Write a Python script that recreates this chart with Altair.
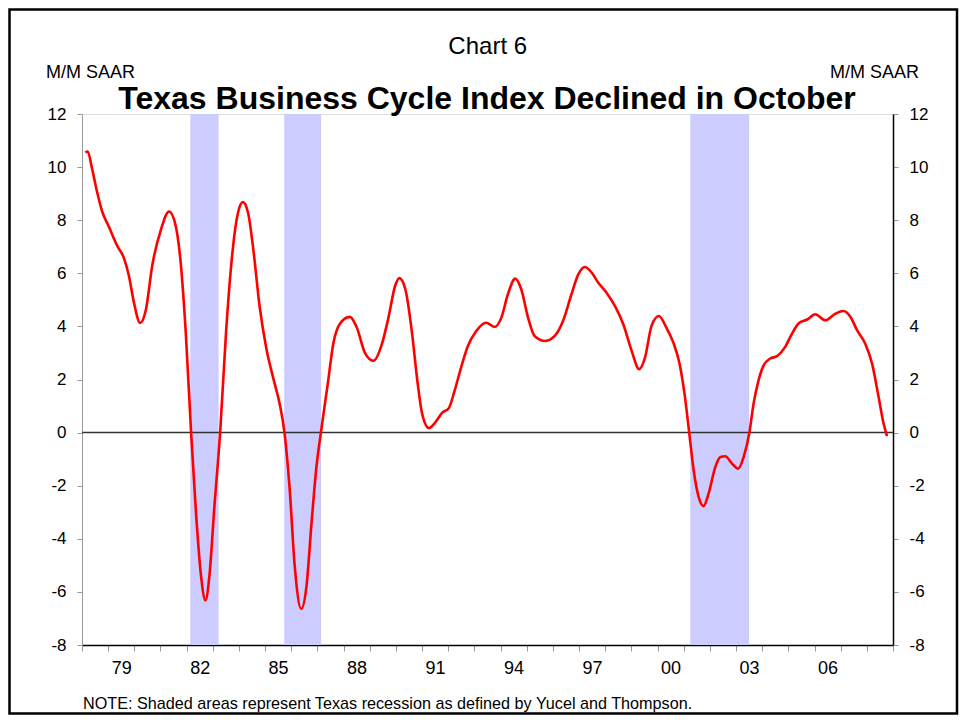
import altair as alt
import pandas as pd

# ---- data ----
years = [1978.13, 1978.22, 1978.38, 1978.58, 1978.77, 1979.03, 1979.35, 1979.60, 1979.79, 1979.99,
         1980.22, 1980.44, 1980.69, 1981.01, 1981.33, 1981.56, 1981.78, 1981.97, 1982.17, 1982.36,
         1982.55, 1982.72, 1982.87, 1983.06, 1983.28, 1983.51, 1983.77, 1983.96, 1984.15, 1984.35,
         1984.54, 1984.79, 1985.05, 1985.31, 1985.55, 1985.74, 1985.94, 1986.13, 1986.38, 1986.58,
         1986.77, 1986.96, 1987.16, 1987.41, 1987.60, 1987.86, 1988.24, 1988.50, 1988.82, 1989.14,
         1989.46, 1989.72, 1989.97, 1990.13, 1990.36, 1990.62, 1990.81, 1991.00, 1991.26, 1991.51,
         1991.78, 1992.02, 1992.24, 1992.49, 1992.75, 1993.07, 1993.45, 1993.77, 1994.03, 1994.28,
         1994.56, 1994.79, 1995.05, 1995.30, 1995.71, 1996.07, 1996.39, 1996.71, 1996.97, 1997.22,
         1997.48, 1997.73, 1998.05, 1998.37, 1998.69, 1999.01, 1999.30, 1999.52, 1999.77, 2000.05,
         2000.34, 2000.60, 2000.84, 2001.06, 2001.21, 2001.38, 2001.57, 2001.76, 2001.95, 2002.21,
         2002.40, 2002.59, 2002.85, 2003.08, 2003.29, 2003.51, 2003.67, 2003.86, 2004.06, 2004.31,
         2004.57, 2004.88, 2005.14, 2005.39, 2005.72, 2006.03, 2006.41, 2006.80, 2007.11, 2007.37,
         2007.63, 2007.94, 2008.20, 2008.45, 2008.64, 2008.77]
values = [10.55, 10.59, 9.96, 9.05, 8.33, 7.75, 7.03, 6.58, 5.92, 4.88,
          4.13, 4.62, 6.32, 7.62, 8.33, 7.88, 6.32, 3.71, 0.00, -3.06,
          -5.40, -6.32, -5.40, -2.80, 0.00, 3.84, 6.97, 8.27, 8.68, 8.27,
          6.97, 4.75, 3.15, 2.05, 1.11, 0.00, -2.15, -5.01, -6.64, -5.79,
          -3.45, -1.30, 0.20, 1.95, 3.32, 4.10, 4.36, 3.97, 2.99, 2.70,
          3.32, 4.36, 5.53, 5.82, 5.40, 3.71, 2.02, 0.72, 0.17, 0.39,
          0.76, 0.92, 1.57, 2.45, 3.26, 3.83, 4.14, 3.98, 4.33, 5.21,
          5.80, 5.40, 4.33, 3.64, 3.45, 3.64, 4.21, 5.21, 5.96, 6.24,
          6.03, 5.65, 5.27, 4.77, 4.08, 3.08, 2.39, 2.82, 4.02, 4.39,
          3.95, 3.40, 2.60, 1.25, 0.00, -1.42, -2.42, -2.77, -2.30, -1.29,
          -0.92, -0.89, -1.17, -1.36, -0.92, 0.00, 1.09, 1.97, 2.54, 2.79,
          2.88, 3.23, 3.73, 4.11, 4.26, 4.46, 4.23, 4.48, 4.58, 4.36,
          3.85, 3.35, 2.60, 1.34, 0.34, -0.13]
rec_start = [1982.14, 1985.73, 2001.25]
rec_end = [1983.22, 1987.14, 2003.50]
y_ticks = list(range(-8, 13, 2))
x_tick_years = list(range(1978, 2010))

title_text = "Texas Business Cycle Index Declined in October"
chart_no = "Chart 6"
unit_text = "M/M SAAR"
note_text = "NOTE:  Shaded areas represent Texas recession as defined by Yucel and Thompson."

line_df = pd.DataFrame({"year": years, "value": values})
rec_df = pd.DataFrame({"start": rec_start, "end": rec_end})
one = alt.Data(values=[{}])

W, H = 811, 531
FONT = "Liberation Sans"

xscale = alt.Scale(domain=[1978, 2009], nice=False, zero=False)
yscale = alt.Scale(domain=[-8, 12], nice=False, zero=False)

x_axis = alt.Axis(
    values=x_tick_years, title=None, grid=False,
    labelExpr="((datum.value - 1979) % 3 == 0 && datum.value < 2009) ? slice('0' + (datum.value % 100), -2) : ''",
    labelOffset=13, labelOverlap=False, labelFlush=False, labelBound=False,
    labelFontSize=18, labelColor="black", labelFont=FONT, labelPadding=8,
    tickSize=6, tickColor="#999999", tickWidth=1,
    domainColor="black", domainWidth=1.5,
)
y_label_expr = "datum.value < 0 ? '-' + abs(datum.value) : '' + datum.value"
y_left = alt.Axis(
    values=y_ticks, title=None, grid=False, orient="left", labelExpr=y_label_expr,
    labelFontSize=17, labelColor="black", labelFont=FONT, labelPadding=11,
    tickSize=5, tickColor="#999999", domainColor="#999999", domainWidth=1,
)
y_right = alt.Axis(
    values=y_ticks, title=None, grid=False, orient="right", labelExpr=y_label_expr,
    labelFontSize=17, labelColor="black", labelFont=FONT, labelPadding=11,
    tickSize=5, tickColor="#999999", domainColor="black", domainWidth=1.5,
)

X = alt.X("year:Q", scale=xscale, axis=x_axis)

bands = alt.Chart(rec_df).mark_rect(color="#ccccff").encode(
    x=alt.X("start:Q", scale=xscale, axis=x_axis),
    x2="end:Q",
    y=alt.Y(datum=12, scale=yscale, axis=None),
    y2=alt.Y2(datum=-8),
)

zero = alt.Chart(one).mark_rule(color="#333333", strokeWidth=1.5).encode(
    y=alt.Y(datum=0, scale=yscale, axis=None)
)

line = alt.Chart(line_df).mark_line(color="#ff0000", strokeWidth=2.6, interpolate="monotone").encode(
    x=X,
    y=alt.Y("value:Q", scale=yscale, axis=y_left),
)

right_axis = alt.Chart(line_df).mark_point(opacity=0).encode(
    x=X,
    y=alt.Y("value:Q", scale=yscale, axis=y_right),
)

def txt(text, x, y, size, align="center", weight="normal", baseline="middle"):
    return alt.Chart(one).mark_text(
        text=text, fontSize=size, font=FONT, fontWeight=weight, align=align,
        baseline=baseline, color="black",
    ).encode(x=alt.value(x), y=alt.value(y))

t_chart = txt(chart_no, 405.7, -67, 24)
t_unit_l = txt(unit_text, -36, -41, 18, align="left")
t_unit_r = txt(unit_text, 837, -41, 18, align="right")
t_title = txt(title_text, 405, -15, 32, weight="bold")
t_note = txt(note_text, 1, 595, 16.2, align="left", baseline="alphabetic")

frame = alt.Chart(one).mark_rect(fill=None, fillOpacity=0, stroke="black", strokeWidth=2.5).encode(
    x=alt.value(-72.5), x2=alt.value(875), y=alt.value(-104.5), y2=alt.value(599.5)
)

chart = alt.layer(
    bands, zero, line, right_axis, t_chart, t_unit_l, t_unit_r, t_title, t_note, frame
).resolve_axis(y="independent").properties(
    width=W, height=H,
    padding={"left": 74, "top": 106, "right": 66, "bottom": 70},
    autosize=alt.AutoSizeParams(type="none"),
).configure_view(stroke=None).configure(font=FONT, background="white")

chart.save("out.html", embed_options={"renderer": "svg", "actions": False})
